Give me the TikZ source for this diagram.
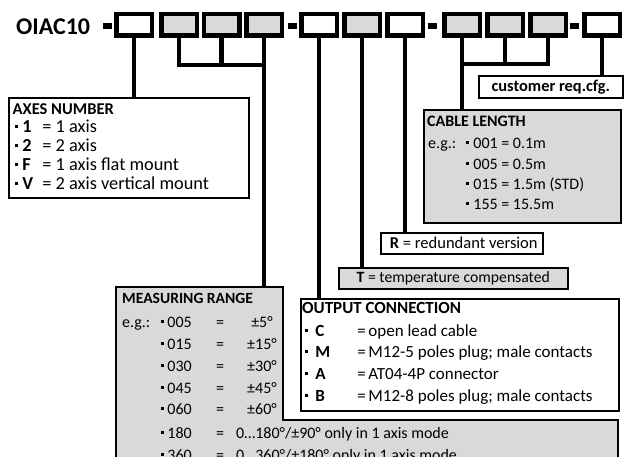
\documentclass[tikz,border=0pt]{standalone}
\usepackage{fontspec}
\setmainfont{Carlito}
\usetikzlibrary{calc}
\definecolor{boxgray}{HTML}{D9D9D9}
\newcommand\bul{\rule[4.5pt]{3.2pt}{3.2pt}}
\begin{document}
\begin{tikzpicture}[x=1pt,y=-1pt,
  slot/.style={draw, line width=4.5pt, minimum width=35.5pt, minimum height=21.5pt, inner sep=0pt, fill=white},
  gslot/.style={slot, fill=boxgray},
  wire/.style={line width=4.5pt},
  lbl/.style={draw, line width=1.6pt, inner sep=0pt, anchor=north west},
  txt/.style={anchor=base west, inner sep=0pt},
  ctxt/.style={anchor=base, inner sep=0pt},
  dashmark/.style={fill=black, minimum width=9pt, minimum height=6pt, inner sep=0pt},
  fax/.style={font=\fontsize{18.3}{20}\selectfont},
  faxb/.style={font=\fontsize{16.5}{20}\selectfont\bfseries},
  fcab/.style={font=\fontsize{16}{20}\selectfont},
  fcabb/.style={font=\fontsize{16}{20}\selectfont\bfseries},
  fmeas/.style={font=\fontsize{16}{20}\selectfont},
  fmeasb/.style={font=\fontsize{15.6}{20}\selectfont\bfseries},
  fout/.style={font=\fontsize{17}{20}\selectfont},
  foutb/.style={font=\fontsize{17}{20}\selectfont\bfseries},
  fr/.style={font=\fontsize{16.5}{20}\selectfont},
]
\useasboundingbox (0,0) rectangle (625,457);
\clip (0,0) rectangle (625,457);

% title and dashes
\node[txt, font=\fontsize{24}{28}\selectfont\bfseries] (title) at (16,35) {OIAC10};
\node[dashmark] (d1) at (107.5,26) {};
\node[dashmark] (d2) at (292,26) {};
\node[dashmark] (d3) at (432.5,26) {};
\node[dashmark] (d4) at (574,26) {};

% code slots
\node[slot]  (s1)  at (134,25) {};
\node[gslot] (s2)  at (179,25) {};
\node[gslot] (s3)  at (221.5,25) {};
\node[gslot] (s4)  at (264,25) {};
\node[slot]  (s5)  at (319,25) {};
\node[gslot] (s6)  at (362,25) {};
\node[slot]  (s7)  at (405,25) {};
\node[gslot] (s8)  at (462,25) {};
\node[gslot] (s9)  at (505,25) {};
\node[gslot] (s10) at (548,25) {};
\node[slot]  (s11) at (602,25) {};

% label boxes
\node[lbl, fill=white, minimum width=240pt, minimum height=100pt] (axes) at (8,97) {};
\node[lbl, fill=boxgray, minimum width=197pt, minimum height=113pt] (cable) at (423,109) {};
\node[lbl, fill=white, minimum width=144pt, minimum height=22pt, font=\fontsize{16.4}{20}\selectfont\bfseries] (cust) at (478,75) {customer req.cfg.};
\node[lbl, fill=white, minimum width=162pt, minimum height=21pt, fr] (rbox) at (380,232) {\hspace{4pt}\textbf{R} = redundant version};
\node[lbl, fill=boxgray, minimum width=229pt, minimum height=21pt, font=\fontsize{15.7}{20}\selectfont] (tbox) at (338,267) {\textbf{T} = temperature compensated};
\draw[fill=boxgray, line width=1.6pt] (116,287) -- (283,287) -- (283,420) -- (618,420) -- (618,475) -- (116,475) -- cycle;
\coordinate (meastop) at (264,287);
\node[lbl, fill=white, minimum width=318pt, minimum height=112pt] (out) at (300,298) {};

% connectors
\coordinate (br1) at (0,65);
\coordinate (br2) at (0,64);
\draw[wire] (s1.south) -- (s1.south |- axes.north);
\draw[wire] (s2.south) |- (s4.south |- br1);
\draw[wire] (s3.south) -- (s3.south |- br1);
\draw[wire] (s4.south) -- (meastop);
\draw[wire] (s5.south) -- (s5.south |- out.north);
\draw[wire] (s6.south) -- (s6.south |- tbox.north);
\draw[wire] (s7.south) -- (s7.south |- rbox.north);
\draw[wire] (s10.south) |- (s8.south |- br2);
\draw[wire] (s9.south) -- (s9.south |- br2);
\draw[wire] (s8.south) -- (s8.south |- cable.north);
\draw[wire] (s11.south) -- (s11.south |- cust.north);

% axes number
\node[txt, faxb] (axT) at (12.5,115) {AXES NUMBER};
\node[txt, fax] (ax1) at (15,133) {\bul\hspace{4pt}\makebox[20pt][l]{\textbf{1}}= 1 axis};
\node[txt, fax] (ax2) at (15,152) {\bul\hspace{4pt}\makebox[20pt][l]{\textbf{2}}= 2 axis};
\node[txt, fax] (ax3) at (15,171) {\bul\hspace{4pt}\makebox[20pt][l]{\textbf{F}}= 1 axis flat mount};
\node[txt, fax] (ax4) at (15,190) {\bul\hspace{4pt}\makebox[20pt][l]{\textbf{V}}= 2 axis vertical mount};

% cable length
\node[txt, fcabb] (cbT) at (427,127) {CABLE LENGTH};
\node[txt, fcab] (cbeg) at (428,149) {e.g.:};
\node[txt, fcab] (cb1) at (466,149) {\bul\hspace{4pt}001 = 0.1m};
\node[txt, fcab] (cb2) at (466,169.5) {\bul\hspace{4pt}005 = 0.5m};
\node[txt, fcab] (cb3) at (466,190) {\bul\hspace{4pt}015 = 1.5m (STD)};
\node[txt, fcab] (cb4) at (466,210) {\bul\hspace{4pt}155 = 15.5m};

% measuring range
\node[txt, fmeasb] (msT) at (122,304) {MEASURING RANGE};
\node[txt, fmeas] (mseg) at (122,328) {e.g.:};
\foreach \n/\b/\v in {1/328/{±5°},2/350/{±15°},3/372/{±30°},4/393.5/{±45°},5/415/{±60°}}{
  \node[txt, fmeas] (msn\n) at (161,\b) {\bul\hspace{3pt}\ifcase\n\or 005\or 015\or 030\or 045\or 060\fi};
  \node[ctxt, fmeas] (mse\n) at (220,\b) {=};
  \node[ctxt, fmeas] (msv\n) at (262,\b) {\v};
}
\node[txt, fmeas] (msn6) at (161,439) {\bul\hspace{3pt}180};
\node[ctxt, fmeas] (mse6) at (220,439) {=};
\node[txt, fmeas] (msv6) at (236,439) {0…180°/±90° only in 1 axis mode};
\node[txt, fmeas] (msn7) at (161,461) {\bul\hspace{3pt}360};
\node[ctxt, fmeas] (mse7) at (220,461) {=};
\node[txt, fmeas] (msv7) at (236,461) {0…360°/±180° only in 1 axis mode};

% output connection
\node[txt, foutb] (ocT) at (302,314) {OUTPUT CONNECTION};
\node[txt, fout] (oc1) at (305,336.5) {\bul\hspace{7pt}\makebox[42pt][l]{\textbf{C}}\makebox[11pt][l]{=}open lead cable};
\node[txt, fout] (oc2) at (305,358) {\bul\hspace{7pt}\makebox[42pt][l]{\textbf{M}}\makebox[11pt][l]{=}M12-5 poles plug; male contacts};
\node[txt, fout] (oc3) at (305,380) {\bul\hspace{7pt}\makebox[42pt][l]{\textbf{A}}\makebox[11pt][l]{=}AT04-4P connector};
\node[txt, fout] (oc4) at (305,402) {\bul\hspace{7pt}\makebox[42pt][l]{\textbf{B}}\makebox[11pt][l]{=}M12-8 poles plug; male contacts};
\end{tikzpicture}
\end{document}
